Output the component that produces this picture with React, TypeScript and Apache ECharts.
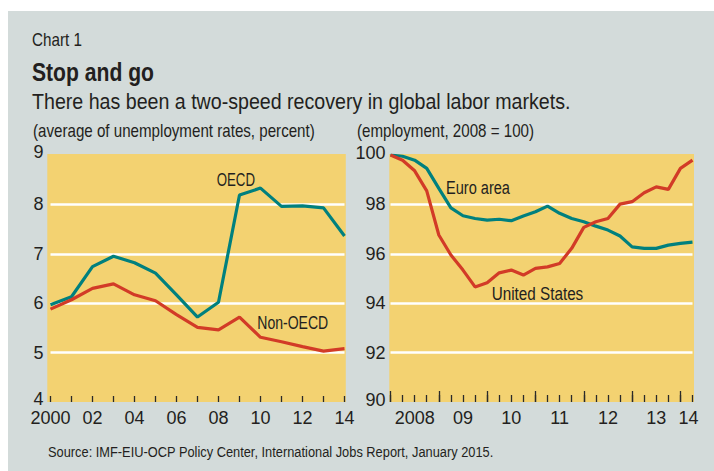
import React, { useEffect, useRef } from 'react';
import * as echarts from 'echarts';

// Left panel: average unemployment rates (percent)
const leftYears = ['2000', '01', '02', '03', '04', '05', '06', '07', '08', '09', '10', '11', '12', '13', '14'];
const oecd = [5.97, 6.13, 6.74, 6.95, 6.82, 6.61, 6.17, 5.72, 6.02, 8.19, 8.33, 7.96, 7.97, 7.93, 7.36];
const nonOecd = [5.88, 6.07, 6.3, 6.39, 6.17, 6.05, 5.77, 5.51, 5.46, 5.72, 5.31, 5.22, 5.12, 5.03, 5.08];

// Right panel: employment, 2008 = 100 (quarterly)
const quarters = [
  '2008Q1', '2008Q2', '2008Q3', '2008Q4',
  '2009Q1', '2009Q2', '2009Q3', '2009Q4',
  '2010Q1', '2010Q2', '2010Q3', '2010Q4',
  '2011Q1', '2011Q2', '2011Q3', '2011Q4',
  '2012Q1', '2012Q2', '2012Q3', '2012Q4',
  '2013Q1', '2013Q2', '2013Q3', '2013Q4',
  '2014Q1', '2014Q2',
];
const euroArea = [100.0, 99.95, 99.79, 99.46, 98.65, 97.86, 97.54, 97.43, 97.36, 97.4, 97.34, 97.53, 97.7,
  97.93, 97.64, 97.43, 97.3, 97.12, 96.96, 96.72, 96.28, 96.22, 96.22, 96.35, 96.42, 96.47];
const unitedStates = [100.0, 99.79, 99.36, 98.55, 96.76, 95.95, 95.34, 94.66, 94.83, 95.23, 95.34, 95.14, 95.41,
  95.47, 95.61, 96.22, 97.07, 97.3, 97.43, 98.01, 98.11, 98.47, 98.71, 98.61, 99.46, 99.79];
const quarterLabelIdx = [2, 6, 10, 14, 18, 22, 24];
const quarterLabelText = ['2008', '09', '10', '11', '12', '13', '14'];

const FONT = "'Liberation Sans', Arial, sans-serif";
const TEXT = '#231f20';
const TEAL = '#00807e';
const RED = '#d23b27';
const YELLOW = '#f3d271';
const GRAY = '#d3dbda';

let ctx: CanvasRenderingContext2D | null = null;
function measure(text: string, size: number, weight: string): number {
  if (!ctx) ctx = document.createElement('canvas').getContext('2d');
  if (!ctx) return text.length * size * 0.5;
  ctx.font = `${weight} ${size}px ${FONT}`;
  return ctx.measureText(text).width;
}

// text squeezed horizontally to a target width (the original uses a condensed face)
function txt(text: string, x: number, y: number, size: number, width: number, weight: string = 'normal') {
  const w = measure(text, size, weight);
  return {
    type: 'text',
    z: 50,
    x, y,
    scaleX: width / w,
    style: {
      text, x: 0, y: 0, fill: TEXT, fontSize: size, fontFamily: FONT, fontWeight: weight,
      textAlign: 'left', textVerticalAlign: 'middle', align: 'left', verticalAlign: 'middle',
    },
  };
}

export default function App() {
  const ref = useRef<HTMLDivElement>(null);
  useEffect(() => {
    if (!ref.current) return;
    const chart = echarts.init(ref.current, null, { renderer: 'svg' });
    const axisLabelBase = { color: TEXT, fontSize: 18, fontFamily: FONT };
    const unitScaleW = 282;
    const unitL = '(average of unemployment rates, percent)';
    const unitR = '(employment, 2008 = 100)';
    const unitRatio = unitScaleW / measure(unitL, 18, 'normal');
    const unitRW = measure(unitR, 18, 'normal') * unitRatio;
    chart.setOption({
      animation: false,
      grid: [
        { left: 50.5, top: 155, width: 294, height: 247 },
        { left: 390.5, top: 155, width: 302, height: 247 },
      ],
      xAxis: [
        {
          type: 'category', gridIndex: 0, data: leftYears, boundaryGap: false, position: 'bottom',
          axisLine: { show: false },
          axisTick: { show: true, inside: true, length: 6, interval: 0, lineStyle: { color: '#2a2a2a', width: 1.3 } },
          axisLabel: { ...axisLabelBase, interval: 1, margin: 7 },
          splitLine: { show: false },
        },
        {
          type: 'category', gridIndex: 1, data: quarters, boundaryGap: false, position: 'bottom',
          axisLine: { show: false },
          axisTick: { show: true, inside: true, length: 7, interval: 0, lineStyle: { color: '#2a2a2a', width: 1.3 } },
          axisLabel: {
            ...axisLabelBase,
            margin: 7,
            interval: (i: number) => quarterLabelIdx.indexOf(i) >= 0,
            formatter: (_v: string, i: number) => {
              const k = quarterLabelIdx.indexOf(i);
              if (k < 0) return '';
              return i === 24 ? '{r|' + quarterLabelText[k] + '}' : quarterLabelText[k];
            },
            rich: { r: { ...axisLabelBase, padding: [0, 0, 0, 16] } },
          },
          splitLine: { show: false },
        },
        {
          type: 'category', gridIndex: 1, data: quarters, boundaryGap: false, position: 'bottom',
          axisLine: { show: false },
          axisTick: { show: true, inside: true, length: 11, interval: (i: number) => i % 4 === 0, lineStyle: { color: '#2a2a2a', width: 1.3 } },
          axisLabel: { show: false },
          splitLine: { show: false },
        },
      ],
      yAxis: [
        {
          type: 'value', gridIndex: 0, min: 4, max: 9, interval: 1, z: 1,
          axisLine: { show: false }, axisTick: { show: false },
          axisLabel: {
            ...axisLabelBase, margin: 7,
            formatter: (v: number) => (v === 4 || v === 9 ? '{a|' + v + '}' : String(v)),
            rich: { a: { ...axisLabelBase, padding: [0, 0, 6, 0] } },
          },
          splitLine: { show: true, showMinLine: false, showMaxLine: false, lineStyle: { color: '#ffffff', width: 2.5 } },
        },
        {
          type: 'value', gridIndex: 1, min: 90, max: 100, interval: 2, z: 1,
          axisLine: { show: false }, axisTick: { show: false },
          axisLabel: {
            ...axisLabelBase, margin: 5,
            formatter: (v: number) => (v === 90 || v === 100 ? '{a|' + v + '}' : String(v)),
            rich: { a: { ...axisLabelBase, padding: [0, 0, 4, 0] } },
          },
          splitLine: { show: true, showMinLine: false, showMaxLine: false, lineStyle: { color: '#ffffff', width: 2.5 } },
        },
      ],
      series: [
        { type: 'line', xAxisIndex: 0, yAxisIndex: 0, data: oecd, symbol: 'none', lineStyle: { color: TEAL, width: 3.2 }, z: 3 },
        { type: 'line', xAxisIndex: 0, yAxisIndex: 0, data: nonOecd, symbol: 'none', lineStyle: { color: RED, width: 3.2 }, z: 4 },
        { type: 'line', xAxisIndex: 1, yAxisIndex: 1, data: euroArea, symbol: 'none', lineStyle: { color: TEAL, width: 3.2 }, z: 3 },
        { type: 'line', xAxisIndex: 1, yAxisIndex: 1, data: unitedStates, symbol: 'none', lineStyle: { color: RED, width: 3.2 }, z: 4 },
      ],
      graphic: [
        { type: 'rect', z: -20, shape: { x: 8, y: 11, width: 706, height: 460 }, style: { fill: GRAY } },
        { type: 'rect', z: -10, shape: { x: 47.3, y: 154, width: 298.5, height: 248 }, style: { fill: YELLOW } },
        { type: 'rect', z: -10, shape: { x: 389.3, y: 154, width: 304.7, height: 248 }, style: { fill: YELLOW } },
        txt('Chart 1', 32, 40, 18, 50),
        txt('Stop and go', 32, 72, 25, 122, 'bold'),
        txt('There has been a two-speed recovery in global labor markets.', 32, 101, 22, 539),
        txt(unitL, 33, 131, 18, unitScaleW),
        txt(unitR, 357, 131, 18, unitRW),
        txt('OECD', 216.7, 179, 19, 38.3),
        txt('Non-OECD', 257.3, 322.5, 19, 71),
        txt('Euro area', 446, 188, 19, 64),
        txt('United States', 491.7, 293, 19, 91.6),
        txt('Source: IMF-EIU-OCP Policy Center, International Jobs Report, January 2015.', 48, 452, 15.5, 446),
      ],
    });
    return () => chart.dispose();
  }, []);
  return <div ref={ref} style={{ position: 'absolute', left: 0, top: 0, width: 714, height: 471, background: '#ffffff' }} />;
}
